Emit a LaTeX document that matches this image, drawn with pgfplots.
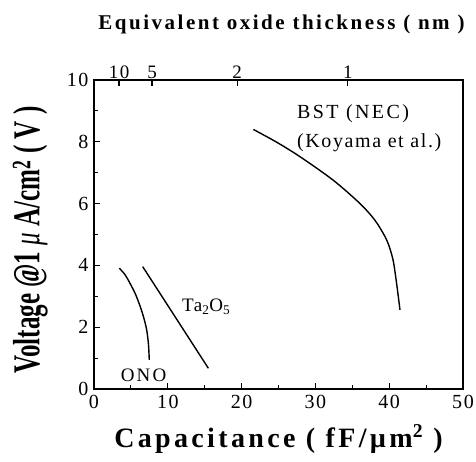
\documentclass[border=0pt]{standalone}
\usepackage{pgfplots}
\pgfplotsset{compat=1.18}
\usepackage{fontspec}
\usepackage{graphicx}
\setmainfont{Liberation Serif}
\newfontfamily\spacedfont[LetterSpace=8]{Liberation Serif}
\newfontfamily\wspacedfont[LetterSpace=12]{Liberation Serif}

\begin{document}
\begin{tikzpicture}
\begin{axis}[
  scale only axis,
  width=369pt, height=309pt,
  xmin=0, xmax=50, ymin=0, ymax=10,
  xtick={0,10,20,30,40,50},
  ytick={0,2,4,6,8,10},
  minor x tick num=1,
  minor y tick num=1,
  xtick pos=bottom, ytick pos=left,
  tick align=inside,
  major tick length=6pt, minor tick length=4pt,
  axis line style={line width=1.6pt},
  every tick/.style={line width=1.2pt, black},
  /pgf/number format/assume math mode=true,
  tick label style={font=\spacedfont\fontsize{20}{20}\selectfont},
  xticklabel style={yshift=-3pt},
  yticklabel style={xshift=-2pt},
  xlabel={\wspacedfont\bfseries\fontsize{28}{28}\selectfont Capacitance ( fF/µm\textsuperscript{2} )},
  xlabel style={at={(axis description cs:0.5,0)}, anchor=base, yshift=-58pt},
  ylabel={\scalebox{0.66}[1]{\bfseries\fontsize{38}{38}\selectfont Voltage @1 {\mdseries\itshape μ} A/cm\textsuperscript{2} ( V )}},
  ylabel style={at={(axis description cs:-0.173,0.482)}, anchor=center},
  clip=false,
]
\addplot[black, line width=1.4pt, smooth] coordinates {
  (3.43,3.91) (4.2,3.70) (4.88,3.42) (5.6,3.08) (6.23,2.69)
  (6.75,2.30) (7.14,1.91) (7.38,1.45) (7.49,0.94)
};
\addplot[black, line width=1.4pt] coordinates {
  (6.6,3.96) (15.5,0.67)
};
\addplot[black, line width=1.4pt, smooth] coordinates {
  (21.6,8.40) (24.8,7.98) (27.9,7.52) (32.4,6.76) (36.0,6.01)
  (38.1,5.45) (39.66,4.82) (40.5,4.20) (41.0,3.42) (41.46,2.56)
};
\node[anchor=base west, inner sep=0pt, font=\wspacedfont\fontsize{20}{20}\selectfont] at (axis cs:27.5,8.76) {BST (NEC)};
\node[anchor=base west, inner sep=0pt, font=\spacedfont\fontsize{20}{20}\selectfont] at (axis cs:27.5,7.83) {(Koyama et al.)};
\node[anchor=base west, inner sep=0pt, font=\spacedfont\fontsize{19}{19}\selectfont] at (axis cs:11.9,2.50) {Ta\textsubscript{2}O\textsubscript{5}};
\node[anchor=base west, inner sep=0pt, font=\wspacedfont\fontsize{19}{19}\selectfont] at (axis cs:3.6,0.24) {ONO};
\end{axis}
\begin{axis}[
  scale only axis,
  width=369pt, height=309pt,
  xmin=0, xmax=50, ymin=0, ymax=10,
  axis x line*=top,
  hide y axis,
  xtick={3.39,7.86,19.4,34.4},
  xticklabels={10,5,2,1},
  tick align=inside,
  major tick length=6pt,
  axis line style={line width=1.6pt},
  every tick/.style={line width=1.2pt, black},
  /pgf/number format/assume math mode=true,
  tick label style={font=\spacedfont\fontsize{19}{19}\selectfont},
  xticklabel style={yshift=-2pt},
  xlabel={\wspacedfont\bfseries\fontsize{21}{21}\selectfont Equivalent oxide thickness ( nm )},
  xlabel style={at={(axis description cs:0.508,1)}, anchor=base, yshift=50pt},
]
\end{axis}
\pgfresetboundingbox
\path (-94pt,-72pt) rectangle (382pt,389pt);
\end{tikzpicture}
\end{document}
